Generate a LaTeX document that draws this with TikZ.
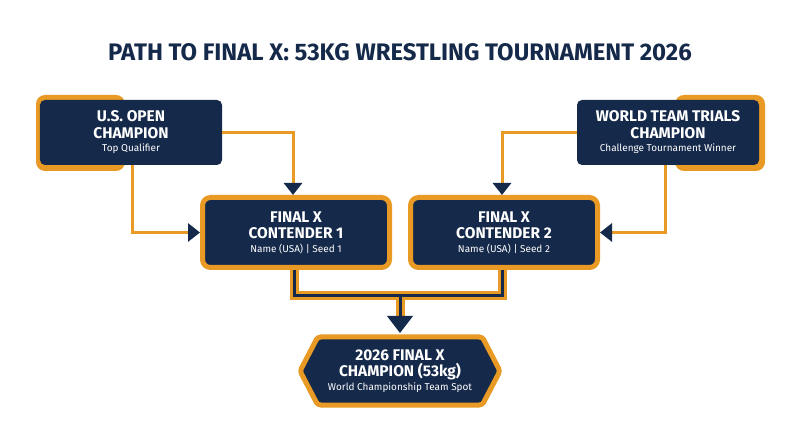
\documentclass[tikz,border=0pt]{standalone}
\usepackage{fontspec}
\setmainfont{Fira Sans}
\usetikzlibrary{arrows.meta,shapes.geometric,shapes.symbols}
\definecolor{navy}{HTML}{15294A}
\definecolor{gold}{HTML}{E89A24}
\newcommand\subtxt[1]{{\normalfont\fontsize{10}{11}\selectfont #1}}
\tikzset{
 box/.style={fill=navy,rounded corners=5bp,text=white,align=center,font=\bfseries\fontsize{15.5}{16.5}\selectfont,inner sep=0},
 link/.style={gold,line width=3bp,-{Triangle[length=12bp,width=18bp,fill=navy,color=navy]}},
 outer/.style={draw=gold,line width=9bp},
 inner/.style={draw=navy,line width=3bp},
}
\begin{document}
\begin{tikzpicture}[x=1bp,y=-1bp]
\useasboundingbox (0,0) rectangle (800,447);
\node[font=\bfseries\fontsize{24}{26}\selectfont,text=navy] (title) at (400,52) {PATH TO FINAL X: 53KG WRESTLING TOURNAMENT 2026};
% top-left
\fill[gold,rounded corners=9bp] (36,95) rectangle (125,171);
\node[box,minimum width=182bp,minimum height=65bp] (us) at (131,132.5) {U.S. OPEN\\CHAMPION\\[-3pt]\subtxt{Top Qualifier}};
% top-right
\fill[gold,rounded corners=9bp] (675,95) rectangle (765,171);
\node[box,minimum width=182bp,minimum height=65bp] (wt) at (668,132.5) {WORLD TEAM TRIALS\\CHAMPION\\[-3pt]\subtxt{Challenge Tournament Winner}};
% joining connectors (under contenders)
\coordinate (j) at (400,296);
\coordinate (d) at (400,318);
\draw[outer] (294,262) |- (j) -| (502,262);
\draw[outer] (j) -- (d);
\draw[inner] (294,262) |- (j) -| (502,262);
\draw[inner] (j) -- (d);
% contenders
\node[box,draw=gold,line width=5bp,minimum width=187bp,minimum height=70bp,rounded corners=8bp] (c1) at (296,232.5) {FINAL X\\CONTENDER 1\\[-3pt]\subtxt{Name (USA) | Seed 1}};
\node[box,draw=gold,line width=5bp,minimum width=187bp,minimum height=70bp,rounded corners=8bp] (c2) at (504,232.5) {FINAL X\\CONTENDER 2\\[-3pt]\subtxt{Name (USA) | Seed 2}};
% champion
\node[box,draw=gold,line width=5bp,shape=signal,signal to=east and west,signal pointer angle=125,minimum width=200bp,minimum height=68bp,rounded corners=3bp] (ch) at (400,371) {2026 FINAL X\\CHAMPION (53kg)\\[-3pt]\subtxt{World Championship Team Spot}};
% links
\draw[link] (us.east |- 0,133) -| ([xshift=-3bp]c1.north);
\draw[link] (132,165) |- (c1.west);
\draw[link] (wt.west |- 0,133) -| ([xshift=-2bp]c2.north);
\draw[link] (665,165) |- (c2.east);
\fill[navy] (387,316) -- (413,316) -- (400,333) -- cycle;
\end{tikzpicture}
\end{document}
